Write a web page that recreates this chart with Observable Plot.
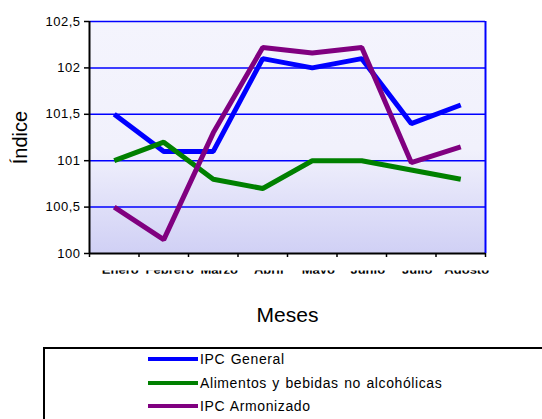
<!DOCTYPE html>
<html>
<head>
<meta charset="utf-8">
<script src="https://cdn.jsdelivr.net/npm/d3@7"></script>
<script src="https://cdn.jsdelivr.net/npm/@observablehq/plot@0.6"></script>
<style>
  html, body { margin: 0; padding: 0; background: white; }
  #wrap { position: relative; width: 542px; height: 419px; overflow: hidden; font-family: "Liberation Sans", Arial, sans-serif; }
  #chart { position: absolute; left: 0; top: 0; }
  #legend { position: absolute; left: 43px; top: 347px; width: 560px; height: 120px; border: 2px solid #000; box-sizing: border-box; }
  .item { position: absolute; left: 0; height: 20px; }
  .sw { position: absolute; left: 103px; width: 50px; height: 4px; }
  .lab { position: absolute; left: 155px; font-size: 14px; letter-spacing: 0.6px; word-spacing: 1px; white-space: nowrap; color: #000; line-height: 16px; }
</style>
</head>
<body>
<div id="wrap">
  <div id="chart"></div>
  <div id="legend"></div>
</div>
<script>
const months = ["Enero", "Febrero", "Marzo", "Abril", "Mayo", "Junio", "Julio", "Agosto"];
const seriesNames = ["IPC General", "Alimentos y bebidas no alcohólicas", "IPC Armonizado"];
const seriesColors = ["#0000ff", "#008000", "#800080"];
const ipcGeneral = [101.5, 101.1, 101.1, 102.1, 102.0, 102.1, 101.4, 101.6];
const alimentos = [101.0, 101.2, 100.8, 100.7, 101.0, 101.0, 100.9, 100.8];
const ipcArmonizado = [100.5, 100.15, 101.3, 102.22, 102.16, 102.22, 100.98, 101.15];
const yTicks = [100, 100.5, 101, 101.5, 102, 102.5];

const seriesValues = [ipcGeneral, alimentos, ipcArmonizado];
const data = [];
seriesNames.forEach((name, s) => {
  seriesValues[s].forEach((v, i) => data.push({serie: name, i, month: months[i], value: v}));
});

const fmt = d => String(d).replace(".", ",");
const labelDy = 11.3;

const svg = Plot.plot({
  width: 542,
  height: 335,
  marginTop: 21,
  marginBottom: 82,
  marginLeft: 89,
  marginRight: 57,
  style: {fontFamily: "'Liberation Sans', Arial, sans-serif", background: "white", color: "#000"},
  x: {domain: [0, months.length], axis: null},
  y: {domain: [100, 102.5], axis: null},
  color: {domain: seriesNames, range: seriesColors},
  marks: [
    Plot.frame({fill: "url(#bgGrad)", stroke: "none"}),
    Plot.ruleY(yTicks.filter(d => d > 100), {stroke: "#0000ff", strokeWidth: 1.5}),
    Plot.ruleX([months.length], {stroke: "#0000ff", strokeWidth: 2}),
    Plot.line(data, {x: d => d.i + 0.5, y: "value", z: "serie", stroke: "serie", strokeWidth: 5, strokeLinejoin: "miter", strokeLinecap: "butt"}),
    Plot.axisY({ticks: yTicks, tickSize: 5, tickPadding: 4, tickFormat: fmt, fontSize: 13, stroke: "#000", strokeWidth: 1.5, label: null}),
    Plot.axisX({ticks: d3.range(months.length + 1), tickSize: 4, tickFormat: () => "", stroke: "#000", strokeWidth: 1.5, label: null}),
    Plot.ruleX([0], {stroke: "#000", strokeWidth: 2}),
    Plot.ruleY([100], {stroke: "#000", strokeWidth: 2}),
    Plot.text(months, {x: (d, i) => i + 0.5, y: 100, dy: labelDy, dx: 6, lineAnchor: "top", fontSize: 13, fontWeight: "bold", fill: "#000"}),
    Plot.text(["Índice"], {frameAnchor: "left", textAnchor: "middle", dx: -69, rotate: -90, fontSize: 20, letterSpacing: "1.5px"}),
    Plot.text(["Meses"], {frameAnchor: "bottom", textAnchor: "middle", dy: 68, fontSize: 21, fill: "#000", letterSpacing: "0.5px"})
  ]
});

const s = d3.select(svg);
s.selectAll("text").filter(function() { return this.textContent.match(/^\d/); }).style("letter-spacing", "0.5px");
const defs = s.insert("defs", ":first-child");
defs.html(`
  <linearGradient id="bgGrad" x1="0" y1="0" x2="0" y2="1">
    <stop offset="0" stop-color="#f4f4fd"/>
    <stop offset="0.55" stop-color="#f1f1fc"/>
    <stop offset="1" stop-color="#d0d0f5"/>
  </linearGradient>
  <clipPath id="labelClip"><rect x="-20" y="${270 - labelDy}" width="600" height="3.2"/></clipPath>
`);
s.selectAll("text").filter(function() { return months.includes(this.textContent); })
  .each(function() { d3.select(this.parentNode).attr("clip-path", "url(#labelClip)"); });

document.getElementById("chart").appendChild(svg);

const legend = document.getElementById("legend");
const centers = [10, 34, 57];
seriesNames.forEach((name, k) => {
  const item = document.createElement("div");
  item.className = "item";
  item.style.top = (centers[k] - 10) + "px";
  const sw = document.createElement("div");
  sw.className = "sw";
  sw.style.background = seriesColors[k];
  sw.style.top = "8px";
  const lab = document.createElement("div");
  lab.className = "lab";
  lab.style.top = "2px";
  lab.textContent = name;
  item.appendChild(sw);
  item.appendChild(lab);
  legend.appendChild(item);
});
</script>
</body>
</html>
